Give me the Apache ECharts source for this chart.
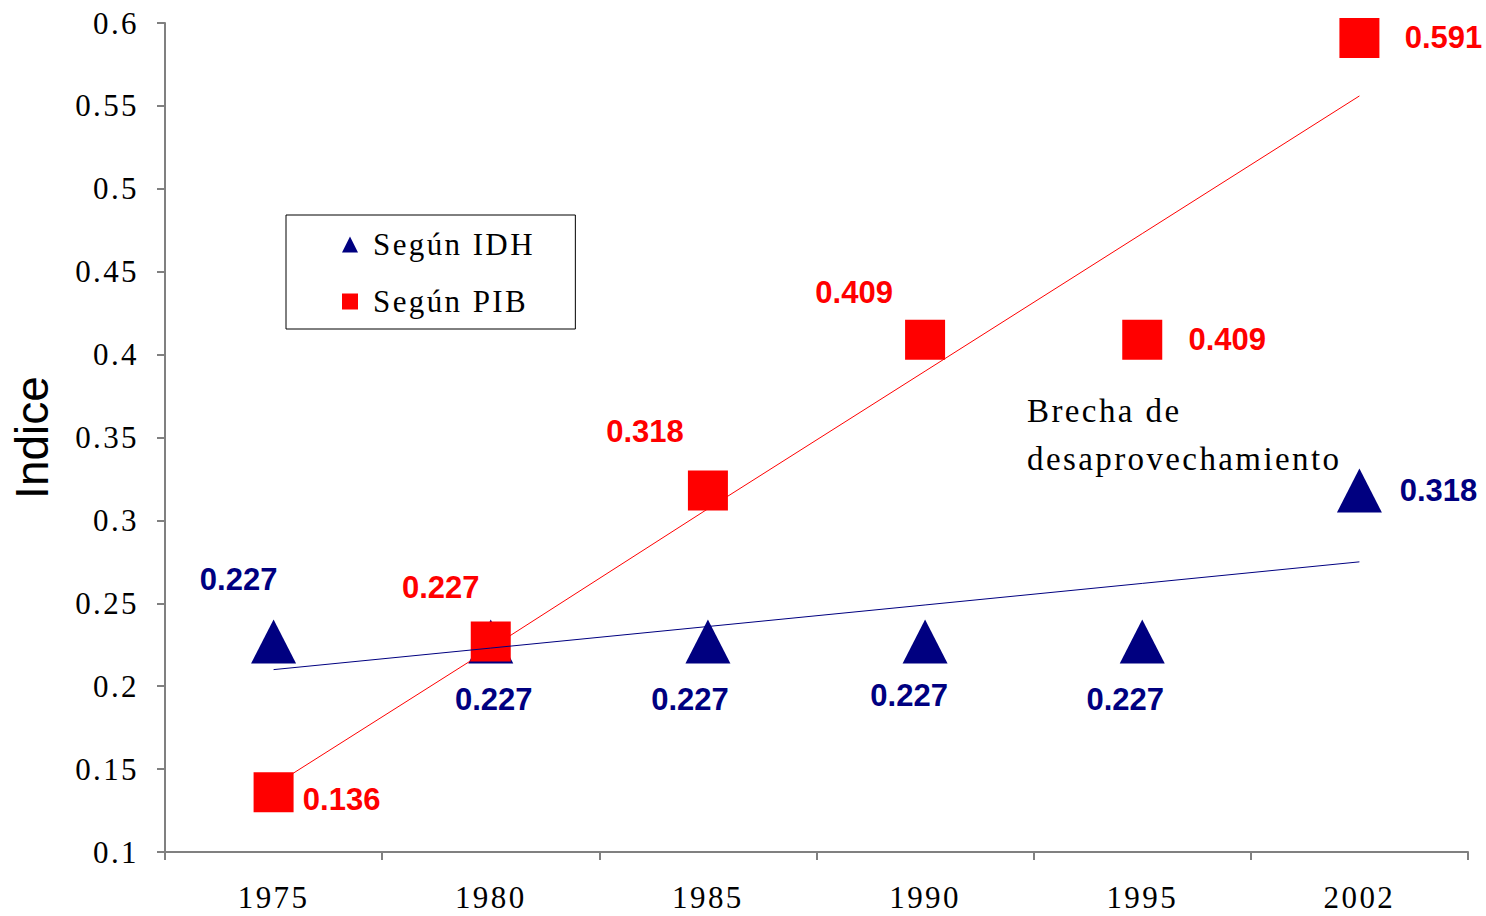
<!DOCTYPE html>
<html>
<head>
<meta charset="utf-8">
<script src="https://cdn.jsdelivr.net/npm/echarts@6/dist/echarts.min.js"></script>
<style>
  html, body { margin: 0; padding: 0; background: #fff; }
  #chart { width: 1486px; height: 916px; }
  /* the serif texts of the original are set a little wide */
  #chart svg text[style*="Liberation Serif"] { letter-spacing: 2.4px; }
</style>
</head>
<body>
<div id="chart"></div>
<script>
// data
const years = ['1975', '1980', '1985', '1990', '1995', '2002'];
const idh = [0.227, 0.227, 0.227, 0.227, 0.227, 0.318];
const pib = [0.136, 0.227, 0.318, 0.409, 0.409, 0.591];
const idhTrend = [0.210, 0.223, 0.236, 0.249, 0.262, 0.275];
const pibTrend = [0.140, 0.223, 0.307, 0.390, 0.473, 0.556];

// label placement (pixels from the marker)
const idhOffsets = [[-35, -62], [3, 58], [-18, 58], [-16, 54], [-17, 58], [79, 0]];
const pibOffsets = [[68, 7], [-50, -54], [-63, -59], [-71, -47], [85, 0], [84, 0]];

const NAVY = '#000080';
const RED = '#ff0000';
const serif = '"Liberation Serif", "Times New Roman", serif';
const sans = '"Liberation Sans", Arial, sans-serif';

function withLabels(values, offsets, color) {
  return values.map((v, i) => ({
    value: v,
    label: {
      show: true,
      position: 'inside',
      offset: offsets[i],
      formatter: v.toFixed(3),
      color: color,
      fontFamily: sans,
      fontWeight: 'bold',
      fontSize: 31
    }
  }));
}

const chart = echarts.init(document.getElementById('chart'), null, { renderer: 'svg' });

chart.setOption({
  animation: false,
  backgroundColor: '#fff',
  grid: { left: 165, right: 18, top: 23, bottom: 64 },
  legend: {
    data: ['Según IDH', 'Según PIB'],
    orient: 'vertical',
    left: 286,
    top: 215,
    padding: [14, 62, 12, 56],
    itemGap: 26,
    itemWidth: 16,
    itemHeight: 16,
    borderColor: '#000',
    borderWidth: 1,
    textStyle: {
      fontFamily: serif,
      fontSize: 31,
      color: '#000',
      padding: [0, 0, 0, 10]
    }
  },
  xAxis: {
    type: 'category',
    data: years,
    boundaryGap: true,
    axisLine: { lineStyle: { color: '#808080', width: 2 } },
    axisTick: { show: true, length: 8, lineStyle: { color: '#808080', width: 2 } },
    axisLabel: { color: '#000', fontFamily: serif, fontSize: 31, margin: 30 }
  },
  yAxis: {
    type: 'value',
    min: 0.1,
    max: 0.6,
    interval: 0.05,
    name: 'Indice',
    nameLocation: 'middle',
    nameGap: 110,
    nameRotate: 90,
    nameTextStyle: { fontFamily: sans, fontSize: 46, color: '#000' },
    axisLine: { show: true, lineStyle: { color: '#808080', width: 2 } },
    axisTick: { show: true, length: 8, lineStyle: { color: '#808080', width: 2 } },
    splitLine: { show: false },
    axisLabel: { color: '#000', fontFamily: serif, fontSize: 31, margin: 26 }
  },
  graphic: [{
    type: 'text',
    left: 1027,
    top: 387,
    style: {
      text: 'Brecha de\ndesaprovechamiento',
      font: '33px ' + serif,
      fill: '#000',
      lineHeight: 48
    }
  }],
  series: [
    {
      name: 'Según IDH',
      type: 'scatter',
      symbol: 'triangle',
      symbolSize: [45, 44],
      itemStyle: { color: NAVY, opacity: 1 },
      z: 2,
      data: withLabels(idh, idhOffsets, NAVY)
    },
    {
      name: 'PIB tendencia',
      type: 'line',
      data: pibTrend,
      symbol: 'none',
      lineStyle: { color: RED, width: 1 },
      z: 3,
      silent: true
    },
    {
      name: 'Según PIB',
      type: 'scatter',
      symbol: 'rect',
      symbolSize: 40,
      itemStyle: { color: RED, opacity: 1 },
      z: 4,
      data: withLabels(pib, pibOffsets, RED)
    },
    {
      name: 'IDH tendencia',
      type: 'line',
      data: idhTrend,
      symbol: 'none',
      lineStyle: { color: NAVY, width: 1 },
      z: 5,
      silent: true
    }
  ]
});
</script>
</body>
</html>
